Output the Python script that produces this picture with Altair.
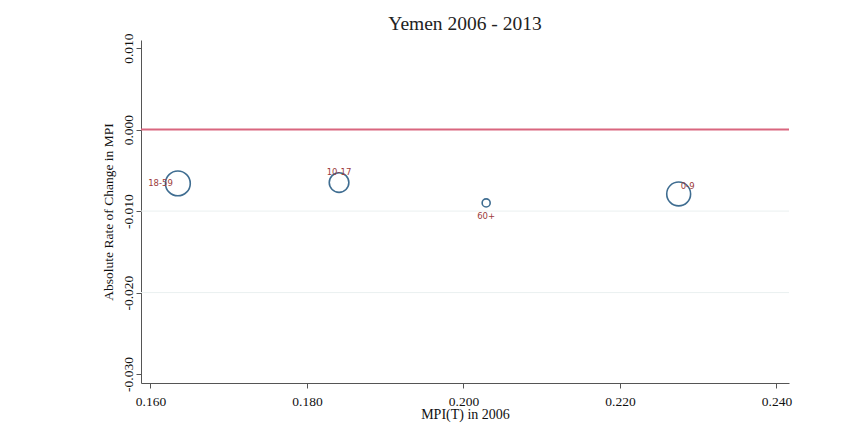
import altair as alt
import pandas as pd

groups = ["18-59", "10-17", "60+", "0-9"]
mpi_2006 = [0.1635, 0.1841, 0.2029, 0.2275]
abs_change = [-0.0066, -0.0065, -0.0090, -0.0079]
weights = [0.40, 0.25, 0.042, 0.37]
grid_vals = [-0.010, -0.020]
x_ticks = [0.160, 0.180, 0.200, 0.220, 0.240]
y_ticks = [0.010, 0.000, -0.010, -0.020, -0.030]

df = pd.DataFrame({"group": groups, "mpi": mpi_2006, "chg": abs_change, "w": weights})
grid_df = pd.DataFrame({"g": grid_vals})
zero_df = pd.DataFrame({"z": [0.0]})

SERIF = "Liberation Serif"
xdom = [0.15879, 0.2416]
ydom = [-0.0311, 0.011]

xs = alt.Scale(domain=xdom, nice=False, zero=False)
ys = alt.Scale(domain=ydom, nice=False, zero=False)

fix_minus = "replace(datum.label, '\u2212', '-')"

xaxis = alt.Axis(values=x_ticks, format=".3f", title="MPI(T) in 2006", grid=False,
                 labelFont=SERIF, labelFontSize=13.5, titleFont=SERIF, titleFontSize=14,
                 titleFontWeight="normal", labelColor="#111", titleColor="#111",
                 tickSize=5, labelPadding=6, titlePadding=0, domainColor="#555",
                 tickColor="#555", labelExpr=fix_minus)
yaxis = alt.Axis(values=y_ticks, format=".3f", title="Absolute Rate of Change in MPI", grid=False,
                 labelFont=SERIF, labelFontSize=13.5, titleFont=SERIF, titleFontSize=13.5,
                 titleFontWeight="normal", labelColor="#111", titleColor="#111",
                 labelAngle=-90, labelAlign="center", labelBaseline="bottom",
                 tickSize=5, labelPadding=1, titlePadding=6, domainColor="#555",
                 tickColor="#555", labelExpr=fix_minus)

grid = alt.Chart(grid_df).mark_rule(color="#eaf0f0", strokeWidth=1).encode(
    y=alt.Y("g:Q", scale=ys, axis=yaxis)
)
zero = alt.Chart(zero_df).mark_rule(color="#d9667f", strokeWidth=2).encode(
    y=alt.Y("z:Q", scale=ys)
)
pts = alt.Chart(df).mark_point(shape="circle", filled=False, color="#3f6d91", strokeWidth=1.6, opacity=1).encode(
    x=alt.X("mpi:Q", scale=xs, axis=xaxis),
    y=alt.Y("chg:Q", scale=ys),
    size=alt.Size("w:Q", scale=alt.Scale(domain=[0, 0.40], range=[0, 616], zero=True), legend=None),
)

def lab(g, **kw):
    return alt.Chart(df).transform_filter(alt.datum.group == g).mark_text(
        font="DejaVu Sans", fontSize=8.5, color="#9c3b3b", **kw
    ).encode(x=alt.X("mpi:Q", scale=xs), y=alt.Y("chg:Q", scale=ys), text="group:N")

labels = [
    lab("18-59", align="right", baseline="middle", dx=-5, dy=0),
    lab("10-17", align="center", baseline="middle", dx=0, dy=-11),
    lab("60+", align="center", baseline="middle", dx=0, dy=13),
    lab("0-9", align="left", baseline="middle", dx=2, dy=-8),
]

chart = alt.layer(grid, zero, pts, *labels).properties(
    width=648, height=343,
    title=alt.TitleParams("Yemen 2006 - 2013", font=SERIF, fontSize=19.5, fontWeight="normal",
                          color="#222", anchor="middle", offset=-2),
    autosize=alt.AutoSizeParams(type="none"),
    padding={"left": 133, "top": 32, "right": 40, "bottom": 40},
    background="white",
).configure_view(strokeWidth=0, stroke="transparent")

chart.save("out.html", embed_options={"renderer": "svg", "actions": False})
